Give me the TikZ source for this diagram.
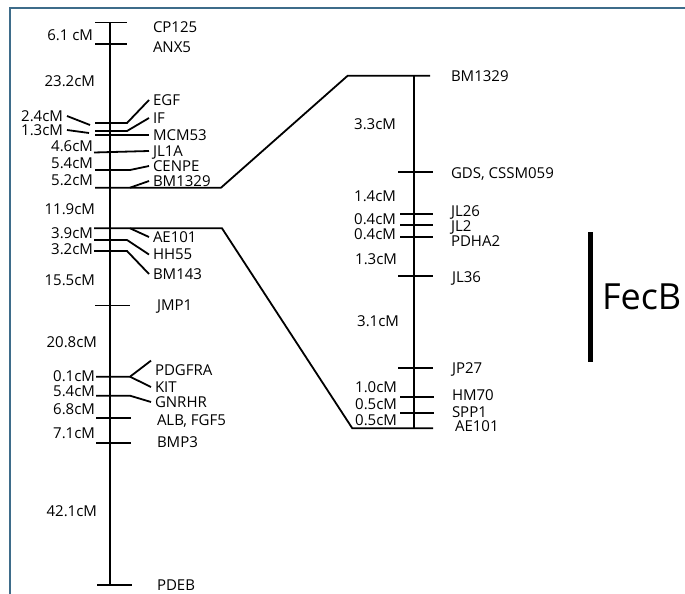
\documentclass[tikz,border=0pt]{standalone}
\usepackage{fontspec}
\setmainfont{Open Sans}
\usetikzlibrary{positioning}
\definecolor{frameblue}{RGB}{62,108,138}

\begin{document}
\begin{tikzpicture}[x=1pt,y=-1pt,line width=1.8pt]
\tikzstyle{M}=[anchor=west,inner sep=2pt,outer sep=2pt,text height=10.7pt,text depth=0pt,font=\fontsize{15}{16}\selectfont]
\tikzstyle{D}=[M,anchor=east]
\useasboundingbox (0,0) rectangle (685,594);
\draw[frameblue,line width=2pt] (9.5,594) -- (9.5,8.5) -- (685,8.5);
% left map
\draw (110,22.5) -- (110,585.3);
\draw (95,22.5) -- (127,22.5); \node[M] (cp125) at (149,27) {CP125};
\draw (95,44.3) -- (127,44.3); \node[M] (anx5) at (149,47) {ANX5};
\node[M] (egf) at (149,100) {EGF}; \draw (95,123) -- (127,123) -- (egf.west);
\node[M] (if) at (149,118) {IF}; \draw (95,131) -- (127,131) -- (if.west);
\node[M] (mcm53) at (149,135) {MCM53}; \draw (95,135) -- (mcm53.west);
\node[M] (jl1a) at (149,151) {JL1A}; \draw (94,152.5) -- (jl1a.west);
\node[M] (cenpe) at (149,166) {CENPE}; \draw (95,170) -- (130,170) -- (cenpe.west);
\node[M] (bm1329) at (149,181) {BM1329}; \draw (130,187.7) -- (bm1329.west);
\node[M] (ae101) at (149,237) {AE101}; \draw (130,228.3) -- (ae101.west);
\node[M] (hh55) at (149,254.5) {HH55}; \draw (94,240) -- (127,240) -- (hh55.west);
\node[M] (bm143) at (149,274) {BM143}; \draw (94,251) -- (127,251) -- (bm143.west);
\draw (95,305.5) -- (130,305.5); \node[M] (jmp1) at (153,305.5) {JMP1};
\node[M] (pdgfra) at (151,370) {PDGFRA}; \draw (96,376.7) -- (130,376.7) -- (pdgfra.north west);
\node[M] (kit) at (151,387) {KIT}; \draw (130,376.7) -- (kit.west);
\node[M] (gnrhr) at (151,402) {GNRHR}; \draw (96,395.7) -- (130,395.7) -- (gnrhr.west);
\draw (96,418) -- (131,418); \node[M] (alb) at (153,420) {ALB, FGF5};
\draw (96,442.7) -- (131,442.7); \node[M] (bmp3) at (153,442) {BMP3};
\draw (97,585.3) -- (132,585.3); \node[M] (pdeb) at (153,585) {PDEB};
\node[D] (d61) at (97,35) {6.1 cM};
\node[D] (d232) at (99,81) {23.2cM};
\node[D] (d24) at (67,116) {2.4cM}; \draw (d24.east) -- (90,125);
\node[D] (d13) at (67,130) {1.3cM}; \draw (d13.east) -- (89,133);
\node[D] (d46) at (97,146) {4.6cM};
\node[D] (d54a) at (97,163) {5.4cM};
\node[D] (d52) at (97,180) {5.2cM};
\node[D] (d119) at (99,209) {11.9cM};
\node[D] (d39) at (97,233) {3.9cM};
\node[D] (d32) at (97,249) {3.2cM};
\node[D] (d155) at (99,280) {15.5cM};
\node[D] (d208) at (101,342) {20.8cM};
\node[D] (d01) at (99,376) {0.1cM};
\node[D] (d54b) at (99,391) {5.4cM};
\node[D] (d68) at (99,409) {6.8cM};
\node[D] (d71) at (99,433) {7.1cM};
\node[D] (d421) at (101,511) {42.1cM};
% right map
\draw (414.3,75.7) -- (414.3,428.3);
\draw (95,187.7) -- (221,187.7) -- (347.7,75.7) -- (430,75.7); \node[M] (bm1329r) at (447,75.7) {BM1329};
\draw (398,172.3) -- (433,172.3); \node[M] (gds) at (447,173) {GDS, CSSM059};
\draw (400,214) -- (433,214); \node[M] (jl26) at (447,211) {JL26};
\draw (400,225) -- (433,225); \node[M] (jl2) at (447,226) {JL2};
\draw (400,237.3) -- (433,237.3); \node[M] (pdha2) at (447,241) {PDHA2};
\draw (398,275.7) -- (433,275.7); \node[M] (jl36) at (448,277) {JL36};
\draw (398,367.7) -- (433,367.7); \node[M] (jp27) at (448,368) {JP27};
\draw (400,396.7) -- (434,396.7); \node[M] (hm70) at (448,395) {HM70};
\draw (400,412.7) -- (434,412.7); \node[M] (spp1) at (448,412) {SPP1};
\draw (94,228.3) -- (222,228.3) -- (352.3,428.3) -- (433,428.3); \node[M] (ae101r) at (451,426) {AE101};
\node[D] (r33) at (400,124) {3.3cM};
\node[D] (r14) at (400,196) {1.4cM};
\node[D] (r04a) at (400,219) {0.4cM};
\node[D] (r04b) at (400,234) {0.4cM};
\node[D] (r13) at (401,259) {1.3cM};
\node[D] (r31) at (403,321) {3.1cM};
\node[D] (r10) at (401,387) {1.0cM};
\node[D] (r05a) at (401,404) {0.5cM};
\node[D] (r05b) at (401,420) {0.5cM};
% marker bar
\draw[line width=5pt] (590,232) -- (590,362);
\node[M,font=\fontsize{36}{40}\selectfont,text height=26pt] (fecb) at (598,296) {FecB};
\end{tikzpicture}
\end{document}
